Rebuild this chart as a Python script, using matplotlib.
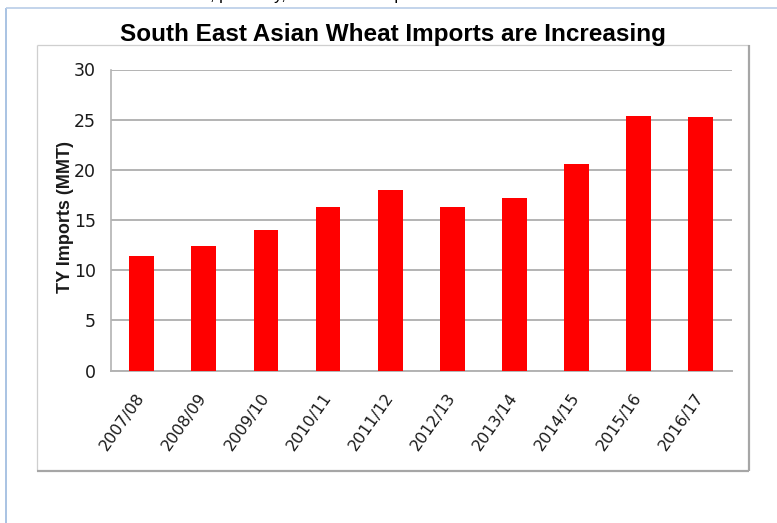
import numpy as np
import matplotlib
matplotlib.use("Agg")
import matplotlib.pyplot as plt
from matplotlib.lines import Line2D

W, H = 777, 523

seasons = ["2007/08", "2008/09", "2009/10", "2010/11", "2011/12",
           "2012/13", "2013/14", "2014/15", "2015/16", "2016/17"]
imports_mmt = [11.45, 12.4, 14.0, 16.3, 18.0, 16.3, 17.2, 20.6, 25.4, 25.3]
yticks = [0, 5, 10, 15, 20, 25, 30]

title = "South East Asian Wheat Imports are Increasing"
ylabel = "TY Imports (MMT)"
clipped_line = ", primarily, because of imports"

narrow = ["Liberation Sans Narrow", "DejaVu Sans"]


def fx(px):
    return px / W


def fy(py):
    return 1 - py / H


def hline(fig, x1, x2, y, color, lw):
    fig.add_artist(Line2D([fx(x1), fx(x2)], [fy(y), fy(y)], color=color, lw=lw,
                          transform=fig.transFigure, solid_capstyle="butt"))


def vline(fig, x, y1, y2, color, lw):
    fig.add_artist(Line2D([fx(x), fx(x)], [fy(y1), fy(y2)], color=color, lw=lw,
                          transform=fig.transFigure, solid_capstyle="butt"))


fig = plt.figure(figsize=(W / 100, H / 100), dpi=100)
fig.patch.set_facecolor("white")

# outer (cut off) frame
vline(fig, 6, 8, H + 5, "#a9c3e3", 1.4)
hline(fig, 6, W + 5, 8, "#b9cde8", 1.2)

# inner chart frame
hline(fig, 37, 749, 45, "#cfcfcf", 0.9)
vline(fig, 37, 45, 471, "#cfcfcf", 0.9)
vline(fig, 748.5, 45, 471, "#a6a6a6", 1.6)
hline(fig, 37, 749, 470.5, "#a6a6a6", 1.6)

# line of page text above the chart, only its descenders are in view
fig.text(fx(210), fy(0), clipped_line, fontsize=12, family="Liberation Sans",
         ha="left", va="baseline", color="black")

fig.text(fx(392.5), fy(40.7), title, fontsize=17.5, fontweight="bold",
         family=["Liberation Sans Narrow", "Liberation Sans", "DejaVu Sans"],
         ha="center", va="baseline", color="black")

left, right, top, bottom = 110.7, 731.7, 69.5, 370.5
ax = fig.add_axes([fx(left), fy(bottom), fx(right - left), (bottom - top) / H])

x = np.arange(len(seasons))
ax.bar(x, imports_mmt, width=0.4, color="#ff0000", zorder=3)

ax.set_xlim(-0.5, len(seasons) - 0.5)
ax.set_ylim(0, 30)
ax.set_yticks(yticks)
ax.set_xticks(x)
ax.set_xticklabels(seasons)

ax.grid(axis="y", color="#b3b3b3", lw=1.4, zorder=0)
ax.set_axisbelow(True)
for s in ["top", "right"]:
    ax.spines[s].set_visible(False)
ax.spines["left"].set_color("#b3b3b3")
ax.spines["bottom"].set_color("#b3b3b3")
ax.spines["left"].set_linewidth(1.2)
ax.spines["bottom"].set_linewidth(1.4)

ax.tick_params(axis="y", length=0, pad=10.5, labelsize=12.5, labelcolor="#1a1a1a")
ax.tick_params(axis="x", length=0, pad=17, labelsize=11.5, labelcolor="#1a1a1a")
for lab in ax.get_yticklabels():
    lab.set_family(narrow)
for lab in ax.get_xticklabels():
    lab.set_family(narrow)
    lab.set_rotation(55)
    lab.set_rotation_mode("anchor")
    lab.set_ha("right")
    lab.set_va("center")

fig.text(fx(65), fy(217), ylabel, rotation=90, fontsize=13, fontweight="bold",
         family=["Liberation Sans", "DejaVu Sans"], ha="center", va="center",
         color="#1a1a1a")

fig.savefig("out.png", dpi=100)
